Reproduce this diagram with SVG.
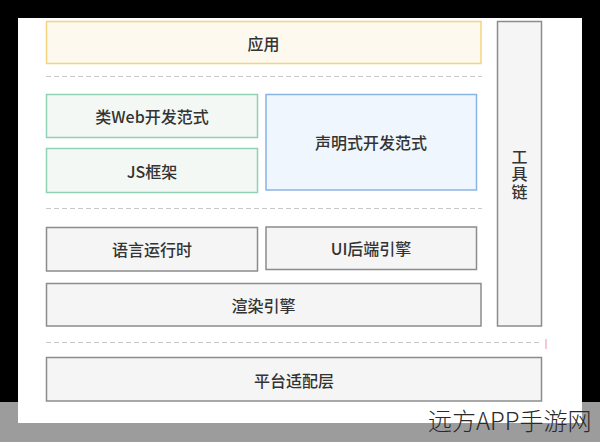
<svg xmlns="http://www.w3.org/2000/svg" width="600" height="442" viewBox="0 0 600 442">
<style>
.t{font-family:"Noto Sans CJK SC","Noto Sans",sans-serif;font-size:16px;font-weight:500;fill:#333;text-anchor:middle;dominant-baseline:central}
.v{writing-mode:tb;letter-spacing:1.5px}
.g{fill:#f5f5f5;stroke:#8c8c8c;stroke-width:1.5}
.grn{fill:#f3f8f4;stroke:#8fd2b6;stroke-width:1.5}
.blu{fill:#eff6fd;stroke:#8ab4e4;stroke-width:1.5}
.yel{fill:#fef9ee;stroke:#f4d47c;stroke-width:1.5}
.dash{stroke:#c8c8c8;stroke-width:1.2;stroke-dasharray:5 3;fill:none}
</style>
<rect x="0" y="0" width="600" height="402" fill="#000"/>
<rect x="0" y="402" width="600" height="40" fill="#9c9c9c"/>
<rect x="18" y="18" width="564" height="405" fill="#fff"/>
<g id="connectors">
<line class="dash" x1="46" y1="76.5" x2="482" y2="76.5"/>
<line class="dash" x1="46" y1="208.5" x2="482" y2="208.5"/>
<line class="dash" x1="46" y1="342.5" x2="542" y2="342.5"/>
<line x1="546" y1="339" x2="546" y2="349" stroke="#f2a6b6" stroke-width="1.2"/>
</g>
<g id="app"><rect class="yel" x="46.5" y="21.5" width="434.5" height="42"/><text class="t" x="263.5" y="43">应用</text></g>
<g id="toolchain"><rect class="g" x="497.5" y="21.5" width="44" height="304.5"/>
<text class="t v" x="519.5" y="175">工具链</text></g>
<g id="webparadigm"><rect class="grn" x="46.5" y="94.5" width="211" height="43"/><text class="t" x="152" y="116">类Web开发范式</text></g>
<g id="jsframework"><rect class="grn" x="46.5" y="148.5" width="211" height="44"/><text class="t" x="152" y="170.5">JS框架</text></g>
<g id="declarative"><rect class="blu" x="266" y="94.5" width="210.5" height="95.5"/><text class="t" x="371" y="142">声明式开发范式</text></g>
<g id="runtime"><rect class="g" x="46.5" y="227.5" width="211" height="43.5"/><text class="t" x="152" y="249">语言运行时</text></g>
<g id="uibackend"><rect class="g" x="266" y="227" width="210.5" height="42.5"/><text class="t" x="371" y="248">UI后端引擎</text></g>
<g id="render"><rect class="g" x="46.5" y="283.5" width="434.5" height="42.5"/><text class="t" x="263.5" y="304.5">渲染引擎</text></g>
<g id="platform"><rect class="g" x="46.5" y="357.5" width="495" height="43.5"/><text class="t" x="294" y="380">平台适配层</text></g>
<text x="428" y="430" font-family="'Noto Sans CJK SC','Noto Sans',sans-serif" font-size="24" font-weight="300" fill="#2a2a2a">远方APP手游网</text>
</svg>
